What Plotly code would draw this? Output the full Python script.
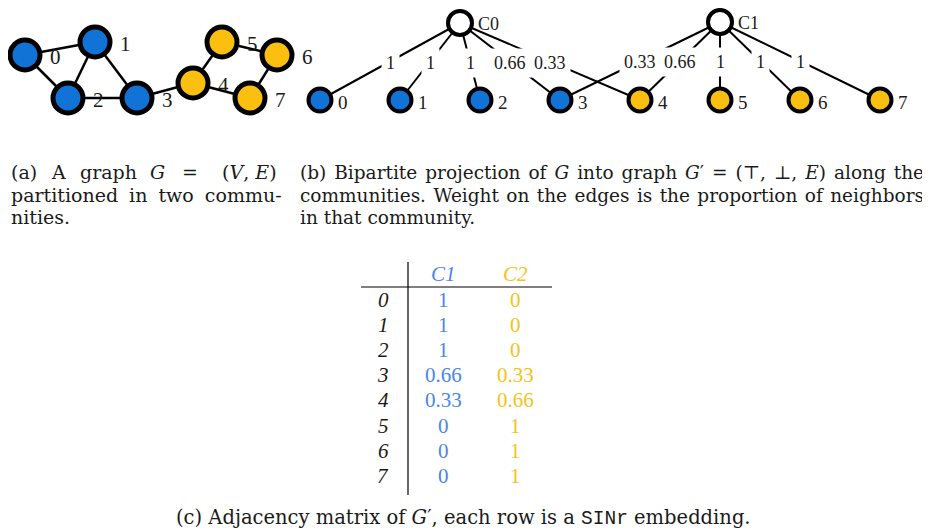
import plotly.graph_objects as go

# ---------------- data ----------------
node_ids = [0, 1, 2, 3, 4, 5, 6, 7]
community = [0, 0, 0, 0, 1, 1, 1, 1]
# graph (a) layout positions
graph_x = [25, 95, 68, 137, 193, 222, 277, 250]
graph_y = [55, 42, 98, 98, 83, 42, 55, 98]
graph_edges = [(0, 1), (0, 2), (1, 2), (1, 3), (2, 3), (3, 4), (4, 5), (4, 7), (5, 6), (6, 7)]

# bipartite projection (b)
community_names = ["C0", "C1"]
weight_c0 = [1, 1, 1, 0.66, 0.33, 0, 0, 0]
weight_c1 = [0, 0, 0, 0.33, 0.66, 1, 1, 1]
bip_x = [320, 400, 480, 560, 640, 720, 800, 880]
bip_y = [100, 100, 100, 100, 100, 100, 100, 100]
comm_x = [460, 720]
comm_y = [23, 22]

# table (c)
table_header = ["C1", "C2"]
table_rows = ["0", "1", "2", "3", "4", "5", "6", "7"]

BLUE = "#1273d6"
YELLOW = "#fbbf10"
TBLUE = "#4a86e8"
TYELLOW = "#f5c21b"
SERIF = "Liberation Serif"
CAP = "DejaVu Serif"
INK = "#1a1a1a"
node_colors = [BLUE if c == 0 else YELLOW for c in community]


def fmt(v):
    return "%g" % v


def spaced(text, px):
    return "<span style='word-spacing:%.1fpx'>%s</span>" % (px, text)


fig = go.Figure()
annots = []

# ---- (a) graph ----
ex, ey = [], []
for a, b in graph_edges:
    ex += [graph_x[a], graph_x[b], None]
    ey += [graph_y[a], graph_y[b], None]
fig.add_trace(go.Scatter(x=ex, y=ey, mode="lines", line=dict(color="black", width=2.5),
                         hoverinfo="skip", showlegend=False))
fig.add_trace(go.Scatter(x=graph_x, y=graph_y, mode="markers",
                         marker=dict(size=30, color=node_colors, line=dict(color="black", width=5)),
                         showlegend=False))
for i in node_ids:
    annots.append(dict(x=graph_x[i] + 30, y=graph_y[i] + 2, text=str(i), showarrow=False,
                       xanchor="center", yanchor="middle", font=dict(family=SERIF, size=21, color=INK)))

# ---- (b) bipartite ----
weights = [weight_c0, weight_c1]
bx, by = [], []
for ci in range(2):
    for i in node_ids:
        w = weights[ci][i]
        if w > 0:
            bx += [comm_x[ci], bip_x[i], None]
            by += [comm_y[ci], bip_y[i], None]
fig.add_trace(go.Scatter(x=bx, y=by, mode="lines", line=dict(color="black", width=2),
                         hoverinfo="skip", showlegend=False))
for ci in range(2):
    for i in node_ids:
        w = weights[ci][i]
        if w > 0:
            annots.append(dict(x=(comm_x[ci] + bip_x[i]) / 2, y=(comm_y[ci] + bip_y[i]) / 2 + 1,
                               text=fmt(w), showarrow=False, bgcolor="white", borderpad=4,
                               xanchor="center", yanchor="middle",
                               font=dict(family=SERIF, size=18, color=INK)))
fig.add_trace(go.Scatter(x=bip_x, y=bip_y, mode="markers",
                         marker=dict(size=23, color=node_colors, line=dict(color="black", width=4)),
                         showlegend=False))
fig.add_trace(go.Scatter(x=comm_x, y=comm_y, mode="markers",
                         marker=dict(size=24, color="white", line=dict(color="black", width=4)),
                         showlegend=False))
for i in node_ids:
    annots.append(dict(x=bip_x[i] + 23, y=bip_y[i] + 2, text=str(i), showarrow=False,
                       xanchor="center", yanchor="middle", font=dict(family=SERIF, size=19, color=INK)))
for ci in range(2):
    annots.append(dict(x=comm_x[ci] + 16, y=comm_y[ci] + 1, text=community_names[ci], showarrow=False,
                       xanchor="left", yanchor="middle", font=dict(family=SERIF, size=18, color=INK)))

# ---- captions (a), (b) ----
cap_font = dict(family=CAP, size=19, color=INK)
cap_font_b = dict(family=CAP, size=18.5, color=INK)
L1, L2, L3 = 172, 195, 217
cap_parts = [
    ("(a)", 9, L1, cap_font), ("A", 49, L1, cap_font), ("graph", 78, L1, cap_font),
    ("<i>G</i>", 148, L1, cap_font), ("=", 180, L1, cap_font),
    (spaced("partitioned in two commu-", 5.0), 9, L2, cap_font),
    ("nities.", 9, L3, cap_font),
    (spaced("(b) Bipartite projection of <i>G</i> into graph <i>G</i>′ = (⊤, ⊥, <i>E</i>) along the", 2.1),
     298, L1, cap_font_b),
    (spaced("communities. Weight on the edges is the proportion of neighbors", 1.5), 298, L2, cap_font_b),
    ("in that community.", 298, L3, cap_font_b),
]
for t, x0, y0, f in cap_parts:
    annots.append(dict(x=x0, y=y0, text=t, showarrow=False, xanchor="left", yanchor="middle", font=f))
annots.append(dict(x=279, y=L1, text="(<i>V</i>, <i>E</i>)", showarrow=False, xanchor="right",
                   yanchor="middle", font=cap_font))

# ---- table (c) ----
col_x = [443, 515]
row_y0, row_dy = 300, 25.1
tfont = 21
for j, h in enumerate(table_header):
    annots.append(dict(x=col_x[j], y=274, text="<i>%s</i>" % h, showarrow=False, xanchor="center",
                       yanchor="middle", font=dict(family=SERIF, size=tfont, color=[TBLUE, TYELLOW][j])))
for r, lab in enumerate(table_rows):
    y = row_y0 + r * row_dy
    annots.append(dict(x=383, y=y, text="<i>%s</i>" % lab, showarrow=False, xanchor="center",
                       yanchor="middle", font=dict(family=SERIF, size=tfont, color=INK)))
    for j, col in enumerate([weight_c0, weight_c1]):
        annots.append(dict(x=col_x[j], y=y, text=fmt(col[r]), showarrow=False, xanchor="center",
                           yanchor="middle", font=dict(family=SERIF, size=tfont, color=[TBLUE, TYELLOW][j])))

shapes = [
    dict(type="line", x0=408, x1=408, y0=262, y1=495, line=dict(color="black", width=1.2)),
    dict(type="line", x0=361, x1=552, y0=287, y1=287, line=dict(color="black", width=1.2)),
]

annots.append(dict(x=463, y=518,
                   text="(c) Adjacency matrix of <i>G</i>′, each row is a "
                        "<span style='font-family:Liberation Mono'>SINr</span> embedding.",
                   showarrow=False, xanchor="center", yanchor="middle",
                   font=dict(family=CAP, size=19.5, color=INK)))

# page has an 8px body margin: make the figure cover page pixels 8..930 x 8..532
fig.update_layout(
    width=922, height=524, margin=dict(l=0, r=0, t=0, b=0),
    paper_bgcolor="white", plot_bgcolor="white",
    xaxis=dict(range=[8, 930], visible=False, fixedrange=True),
    yaxis=dict(range=[532, 8], visible=False, fixedrange=True),
    annotations=annots, shapes=shapes, showlegend=False,
)
fig.write_html("out.html")
